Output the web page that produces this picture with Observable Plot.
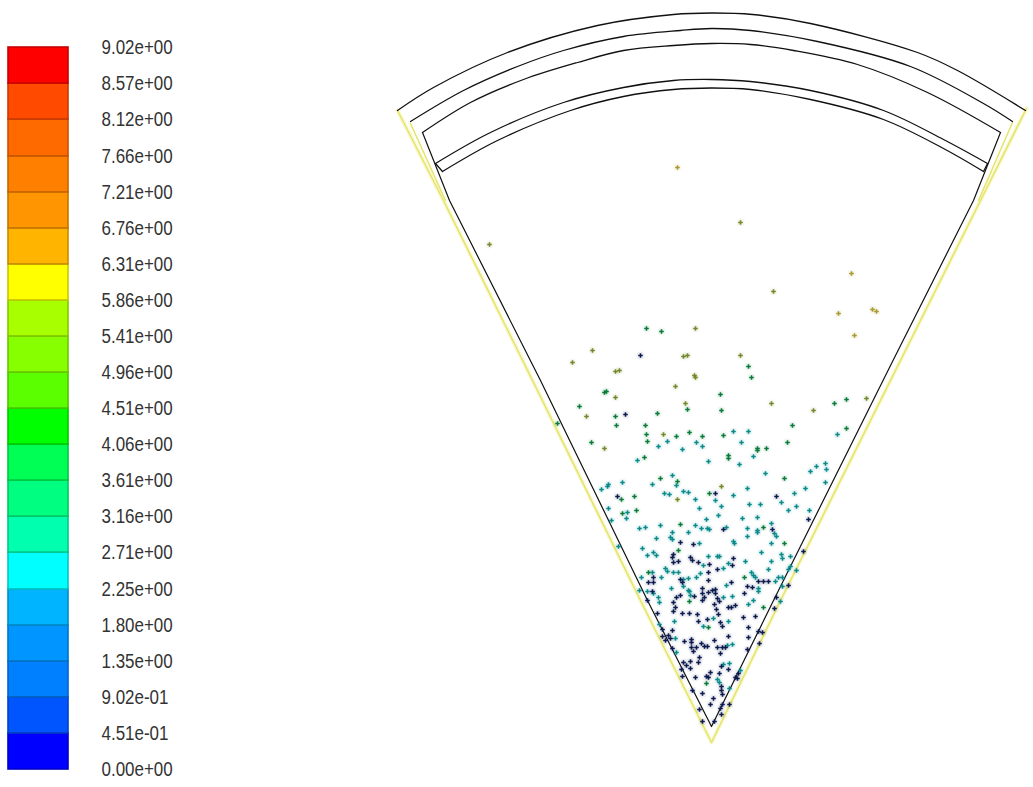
<!DOCTYPE html>
<html><head><meta charset="utf-8">
<script src="https://cdn.jsdelivr.net/npm/d3@7"></script>
<script src="https://cdn.jsdelivr.net/npm/@observablehq/plot@0.6"></script>
<style>
html,body{margin:0;padding:0;background:#fff;overflow:hidden}
#wrap{display:flex;width:1033px;height:787px}
svg{display:block}
</style></head><body><div id="wrap"></div>
<script>
const levelLabels=["0.00e+00","4.51e-01","9.02e-01","1.35e+00","1.80e+00","2.25e+00","2.71e+00","3.16e+00","3.61e+00","4.06e+00","4.51e+00","4.96e+00","5.41e+00","5.86e+00","6.31e+00","6.76e+00","7.21e+00","7.66e+00","8.12e+00","8.57e+00","9.02e+00"];
const cellColors=["#0000ff","#0055ff","#0080ff","#0095ff","#00b4ff","#00ffff","#00ffae","#00ff80","#00ff55","#00ff00","#5cff00","#88ff00","#a8ff00","#ffff00","#ffb400","#ff9500","#ff8000","#ff6a00","#ff4a00","#ff0000"];

const arc1=[[397,110],[433,87],[507,52],[597,25],[673,14],[711,12.5],[752,14],[810,23],[917,52],[957,70],[1025,110]];
const arc2=[[410,121],[463,90],[517,66],[563,50],[623,36],[680,30],[711,28],[750,30],[817,41],[910,66],[983,103],[1012,121]];
const arc3=[[422,132],[470,102],[523,79],[577,62],[623,50],[673,45],[711,43],[750,44],[793,50],[857,64],[927,92],[1000,132]];
const arc4=[[435,163],[490,132],[563,102],[623,87],[673,80],[711,79],[750,81],[810,90],[883,110],[943,139],[987,163]];
const arc5=[[442,171],[497,140],[570,110],[623,96],[673,89],[711,87.5],[750,89],[810,99],[883,119],[943,148],[983,171]];
const wedgeBlack=[[422,132],[449,200],[540,380],[647,600],[711,726],[773,600],[890,365],[973,200],[1000,132]];
const capLeft=[[435,163],[442,171]];
const capRight=[[987,163],[983,171]];
const wedgeYellow=[[397,110],[443,200],[537,390],[640,600],[711,742],[780,600],[980,200],[1026,108]];
const yellowLeft=[[410,123],[445,200]];
const yellowRight=[[1012,122],[978,200]];

const gold=[[677,167],[851,273],[838,313],[872,309],[876,311],[854,335]];
const olive=[[740,222],[489,244],[773,291],[695,328],[592,350],[572,362],[683,356],[687,355],[740,355],[694,375],[695,377],[615,371],[619,370],[675,386],[615,397],[685,403],[771,403],[813,410],[866,398],[586,416],[604,448],[721,486],[663,434],[677,499]];
const green=[[646,328],[661,331],[748,366],[751,377],[604,392],[606,391],[720,394],[579,406],[687,409],[721,410],[834,403],[846,399],[615,416],[657,413],[616,425],[557,423],[645,425],[792,425],[646,434],[676,436],[689,432],[702,436],[723,435],[846,428],[591,442],[647,441],[757,448],[757,450],[766,448],[787,442],[728,455],[728,458],[644,457],[784,478],[660,478],[677,481],[709,493],[634,496],[621,499],[636,510],[622,513],[680,524],[763,527],[784,543],[678,550],[648,572],[744,577],[763,607],[689,601],[708,627],[706,683]];
const teal=[[733,431],[748,431],[837,434],[658,446],[667,441],[682,449],[696,442],[702,446],[741,442],[753,456],[637,460],[708,461],[739,464],[825,463],[816,466],[826,469],[810,471],[765,473],[672,475],[676,485],[622,482],[608,484],[607,486],[652,484],[825,482],[601,489],[747,488],[805,488],[664,493],[669,494],[683,491],[688,492],[733,495],[794,493],[695,499],[715,500],[721,506],[749,504],[760,504],[781,502],[796,506],[788,510],[809,510],[608,508],[627,512],[699,508],[626,518],[718,515],[611,520],[706,519],[742,518],[757,517],[660,525],[695,525],[639,528],[645,527],[701,528],[707,528],[709,529],[726,527],[747,528],[771,523],[757,530],[757,532],[672,532],[688,532],[774,533],[776,536],[656,538],[670,537],[672,539],[747,536],[699,543],[733,541],[734,543],[771,543],[618,546],[642,548],[653,552],[656,555],[647,555],[708,556],[717,556],[719,556],[761,552],[781,554],[782,558],[790,556],[728,563],[745,561],[771,561],[703,565],[723,568],[768,569],[790,566],[788,569],[796,570],[665,568],[667,571],[673,572],[678,572],[652,572],[751,572],[641,577],[661,577],[700,573],[696,577],[688,578],[683,579],[753,575],[755,577],[782,577],[778,577],[775,581],[683,586],[688,590],[671,588],[726,585],[758,588],[758,591],[782,586],[639,590],[647,591],[653,593],[689,591],[690,595],[732,596],[658,597],[659,602],[723,597],[753,600],[748,604],[780,601],[713,618],[674,621],[728,621],[659,624],[703,626],[675,638],[732,644],[727,645],[676,652],[723,664],[729,663],[740,670],[717,679],[719,682],[729,688]];
const navy=[[625,414],[715,493],[776,496],[617,496],[640,355],[808,519],[723,529],[772,529],[680,542],[693,544],[803,551],[673,554],[672,557],[690,557],[692,560],[733,558],[673,562],[678,561],[698,562],[709,564],[732,565],[717,569],[708,572],[653,577],[680,579],[682,582],[708,580],[758,581],[763,581],[768,581],[648,582],[653,582],[731,582],[747,586],[752,587],[788,585],[652,591],[702,588],[712,590],[715,589],[708,592],[702,593],[704,597],[715,593],[744,593],[680,595],[676,597],[694,596],[647,600],[673,602],[717,598],[719,601],[702,600],[714,604],[776,597],[675,607],[728,607],[731,607],[735,605],[774,608],[657,613],[673,611],[682,613],[689,613],[697,614],[716,609],[718,614],[743,617],[755,616],[698,621],[707,619],[720,622],[722,626],[748,627],[662,629],[672,630],[758,631],[762,632],[668,635],[662,636],[670,638],[665,640],[728,636],[748,637],[691,639],[684,641],[691,642],[714,640],[701,643],[704,646],[707,646],[759,643],[722,647],[717,647],[725,647],[672,648],[691,647],[696,647],[693,651],[747,649],[720,653],[699,657],[698,662],[683,662],[690,661],[686,665],[690,668],[721,666],[681,669],[728,669],[738,673],[719,673],[682,676],[710,672],[706,676],[708,677],[695,677],[735,677],[737,678],[721,686],[721,690],[692,690],[702,693],[713,698],[722,694],[710,704],[722,704],[720,708],[729,704],[699,709],[721,714],[702,721],[714,721]];

const groupNames=["group A","group B","group C","group D","group E"];
const groupColors=["#a89a30","#72882a","#0a7a3a","#0a8a8a","#0c1a4e"];
const particles=[gold,olive,green,teal,navy].flatMap((g,k)=>g.map(([x,y])=>({x,y,group:groupNames[k]})));

const values=levelLabels.map(Number);
const cells=cellColors.map((c,i)=>({lo:values[i],hi:values[i+1],c}));
const legend=Plot.plot({
  width:190,height:787,margin:0,
  x:{domain:[0,190],range:[0,190],axis:null},
  y:{domain:[0,9.02],range:[769,47],axis:null},
  marks:[
    Plot.rect(cells,{x1:()=>8,x2:()=>68,y1:"lo",y2:"hi",fill:"c",stroke:d=>d3.color(d.c).darker(0.7).formatHex(),strokeWidth:1.6}),
    Plot.text(levelLabels,{x:()=>101,y:d=>+d,text:d=>d,textAnchor:"start",fontSize:19.5,fontFamily:"'Liberation Sans'",fill:"#333"})
  ]
});
const line=(pts,o)=>Plot.line(pts,{x:d=>d[0],y:d=>d[1],...o});
const arcStyle={stroke:"#111",strokeWidth:1.3,curve:"catmull-rom"};
const chart=Plot.plot({
  width:843,height:787,margin:0,
  x:{domain:[190,1033],range:[0,843],axis:null},
  y:{domain:[0,787],range:[0,787],axis:null},
  color:{domain:groupNames,range:groupColors,legend:false},
  marks:[
    line(wedgeYellow,{stroke:"#f4f2a0",strokeWidth:4,strokeOpacity:.5}),
    line(wedgeYellow,{stroke:"#e4e46a",strokeWidth:1.5}),
    line(yellowLeft,{stroke:"#e4e46a",strokeWidth:1.5}),
    line(yellowRight,{stroke:"#e4e46a",strokeWidth:1.5}),
    line(wedgeBlack,{stroke:"#111",strokeWidth:1.2}),
    line(capLeft,{stroke:"#111",strokeWidth:1.2}),
    line(capRight,{stroke:"#111",strokeWidth:1.2}),
    line(arc1,arcStyle),line(arc2,arcStyle),line(arc3,arcStyle),line(arc4,arcStyle),line(arc5,arcStyle),
    Plot.dot(particles,{x:"x",y:"y",r:4,fill:"group",fillOpacity:.07}),
    Plot.dot(particles,{x:"x",y:"y",r:1.6,symbol:"plus",stroke:"group",strokeWidth:1.6})
  ]
});
document.getElementById("wrap").append(legend,chart);
legend.querySelectorAll("text").forEach(t=>{
  t.setAttribute("textLength",(t.getComputedTextLength()*0.87).toFixed(1));
  t.setAttribute("lengthAdjust","spacingAndGlyphs");
});
</script></body></html>
